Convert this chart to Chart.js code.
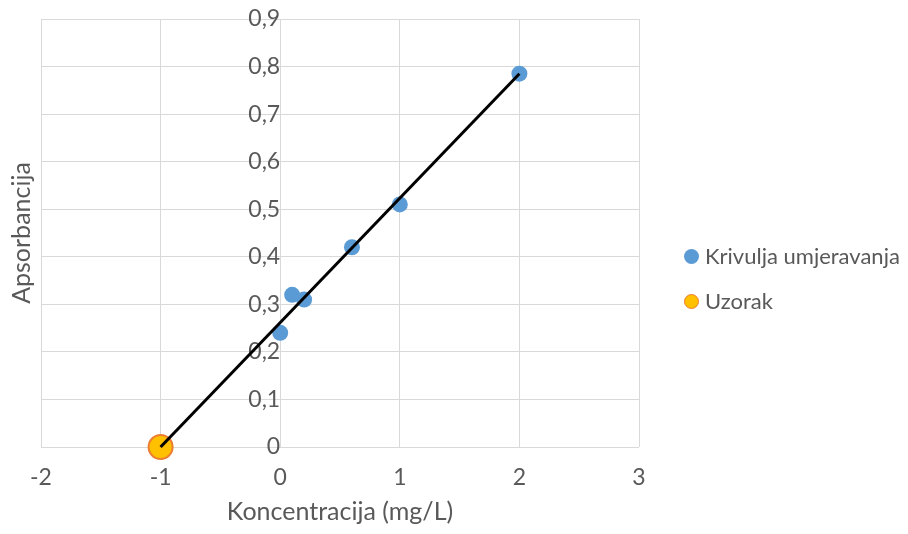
<!DOCTYPE html>
<html>
<head>
<meta charset="utf-8">
<script src="https://cdn.jsdelivr.net/npm/chart.js@4"></script>
<style>
  html, body { margin: 0; padding: 0; background: #fff; }
  #wrap { width: 908px; height: 534px; position: relative; }
  #legend { position: absolute; left: 684px; top: 244px; font-family: Lato, sans-serif; font-size: 22px; color: #595959; }
  #legend div { position: relative; height: 24px; line-height: 24px; margin-bottom: 21px; padding-left: 21px; white-space: nowrap; }
  #legend span { position: absolute; left: 0; top: 4.5px; width: 15px; height: 15px; border-radius: 50%; box-sizing: border-box; }
</style>
</head>
<body>
<div id="wrap"><canvas id="chart"></canvas><div id="legend"></div></div>
<script>
// calibration points (concentration mg/L, absorbance)
const calibX = [0, 0.1, 0.2, 0.6, 1, 2];
const calibY = [0.24, 0.32, 0.31, 0.42, 0.51, 0.785];
// sample point
const sampleX = [-1];
const sampleY = [0];
// trendline ends
const trendX = [-1, 2];
const trendY = [0, 0.785];

const xTicks = [-2, -1, 0, 1, 2, 3];
const yTicks = [0, 0.1, 0.2, 0.3, 0.4, 0.5, 0.6, 0.7, 0.8, 0.9];

const FONT = "Lato";
const GREY = "#595959";
const GRID = "#d9d9d9";

function pts(xs, ys) {
  return xs.map((x, i) => ({ x: x, y: ys[i] }));
}
function comma(v) {
  return String(Math.round(v * 10) / 10).replace(".", ",");
}

const chart = new Chart(document.getElementById("chart"), {
  type: "scatter",
  data: {
    datasets: [
      {
        label: "trend",
        type: "line",
        data: pts(trendX, trendY),
        borderColor: "#000",
        borderWidth: 3,
        pointRadius: 0,
        fill: false,
        clip: false,
        order: 0,
      },
      {
        label: "Krivulja umjeravanja",
        data: pts(calibX, calibY),
        backgroundColor: "#5b9bd5",
        borderColor: "#5b9bd5",
        borderWidth: 0,
        pointRadius: 8,
        clip: false,
        order: 1,
      },
      {
        label: "Uzorak",
        data: pts(sampleX, sampleY),
        backgroundColor: "#ffc000",
        borderColor: "#ed7d31",
        borderWidth: 2,
        pointRadius: 12,
        clip: false,
        order: 2,
      },
    ],
  },
  options: {
    responsive: true,
    maintainAspectRatio: false,
    animation: false,
    layout: { padding: { left: 3, top: 19, right: 269, bottom: 3 } },
    scales: {
      x: {
        type: "linear",
        min: xTicks[0],
        max: xTicks[xTicks.length - 1],
        afterBuildTicks: (s) => { s.ticks = xTicks.map((v) => ({ value: v })); },
        grid: { color: GRID, lineWidth: 1, drawTicks: false },
        border: { display: false },
        ticks: { color: GREY, font: { family: FONT, size: 23 }, padding: 17 },
        title: {
          display: true,
          text: "Koncentracija (mg/L)",
          color: GREY,
          font: { family: FONT, size: 25 },
          padding: { top: -11.6, bottom: 4 },
        },
      },
      y: {
        type: "linear",
        min: 0,
        max: 0.9,
        afterBuildTicks: (s) => { s.ticks = yTicks.map((v) => ({ value: v })); },
        grid: { color: GRID, lineWidth: 1, drawTicks: false },
        border: { display: false },
        ticks: { display: false },
        title: {
          display: true,
          text: "Apsorbancija",
          color: GREY,
          font: { family: FONT, size: 25 },
          padding: { top: 4, bottom: 4 },
        },
      },
      y2: {
        axis: "y",
        type: "linear",
        position: { x: 0 },
        min: 0,
        max: 0.9,
        afterBuildTicks: (s) => { s.ticks = yTicks.map((v) => ({ value: v })); },
        grid: { display: false, drawTicks: false },
        border: { display: false },
        ticks: { color: GREY, font: { family: FONT, size: 23 }, padding: -22, callback: (v) => comma(v) },
      },
    },
    plugins: {
      tooltip: { enabled: false },
      legend: { display: false },
    },
  },
});

// legend built from the chart's datasets (trendline left out)
const legendEl = document.getElementById("legend");
chart.data.datasets
  .filter((ds) => ds.label !== "trend")
  .forEach((ds) => {
    const row = document.createElement("div");
    const dot = document.createElement("span");
    dot.style.background = ds.backgroundColor;
    dot.style.border = (ds.borderWidth ? 1.5 : 0) + "px solid " + ds.borderColor;
    row.appendChild(dot);
    row.appendChild(document.createTextNode(ds.label));
    legendEl.appendChild(row);
  });
</script>
</body>
</html>
